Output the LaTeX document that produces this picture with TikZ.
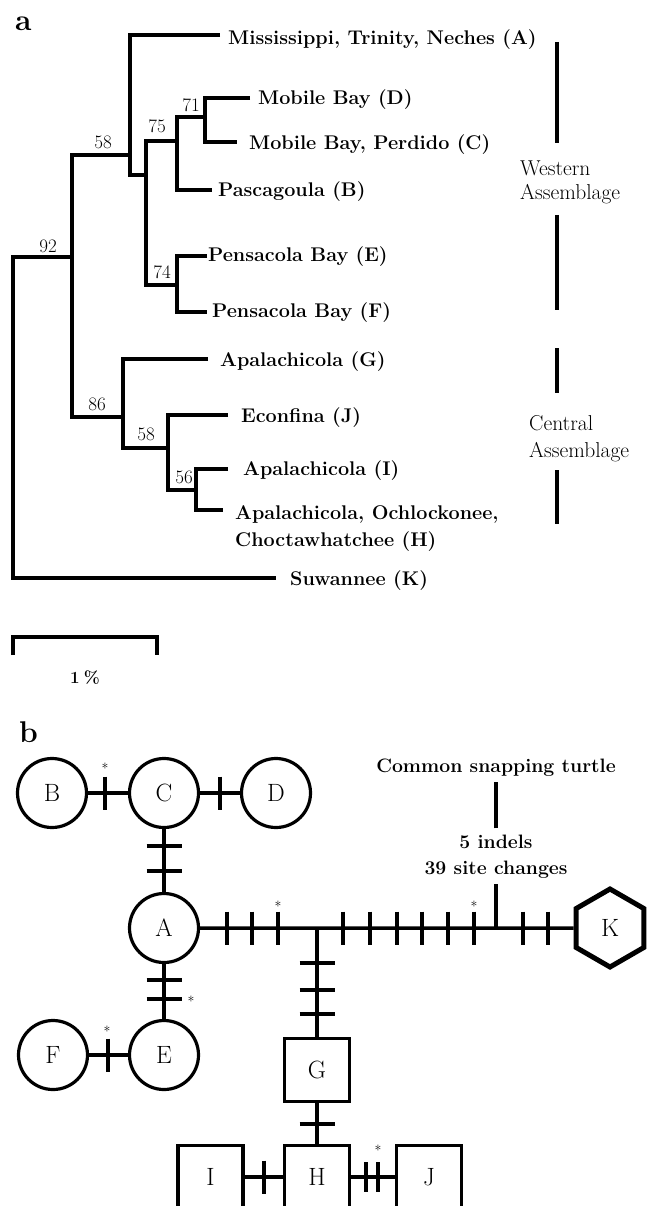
\documentclass[tikz,border=0pt]{standalone}
\usepackage{fontspec}
\usetikzlibrary{shapes.geometric}
\newcommand\fs[2]{\fontsize{#1}{#2}\selectfont}
\newcommand\tickv[2]{\draw[tk] (#1,#2-16.5) -- (#1,#2+16.5);}
\newcommand\tickh[2]{\draw[tk] (#1-17.5,#2) -- (#1+17.5,#2);}
\tikzset{
 branch/.style={line width=3.6pt, line join=miter},
 leaf/.style={anchor=base west, inner sep=0pt, font=\fs{19.8}{27}\bfseries, align=left},
 boot/.style={anchor=base, inner sep=0pt, font=\fs{19}{22}},
 bar/.style={line width=4.2pt},
 grp/.style={anchor=base west, inner sep=0pt, font=\fs{21.5}{24}, align=left},
 hap/.style={circle, draw, line width=3.2pt, minimum size=69pt, inner sep=0pt, font=\fs{25}{25}},
 sq/.style={rectangle, draw, line width=3.5pt, minimum width=65pt, minimum height=63pt, inner sep=0pt, font=\fs{25}{25}},
 hexa/.style={regular polygon, regular polygon sides=6, regular polygon rotate=30, draw, line width=5pt, minimum size=78pt, inner sep=0pt, font=\fs{25}{25}},
 conn/.style={line width=3.5pt},
 tk/.style={line width=3.5pt},
 ast/.style={anchor=base, inner sep=0pt, font=\fs{14}{14}},
 panel/.style={anchor=base west, inner sep=0pt, font=\fs{30}{30}\bfseries},
 txt/.style={anchor=base, inner ysep=6pt, inner xsep=0pt, font=\fs{19.4}{26}\bfseries, align=center},
}
\begin{document}
\begin{tikzpicture}[x=1pt, y=-1pt]
\clip (0,0) rectangle (660,1206);
% ---------------- panel a ----------------
\node[panel] (la) at (15,31) {a};
\coordinate (root) at (13,257);
\coordinate (n58a) at (72,257);
\coordinate (nAx) at (130,155);
\coordinate (nB) at (146,175);
\coordinate (n75) at (177,141);
\coordinate (n71) at (205,117);
\coordinate (n74) at (177,285);
\coordinate (n86) at (123,417);
\coordinate (n58b) at (168,448);
\coordinate (n56) at (196,490);
\coordinate (eA) at (220,35);
\coordinate (eD) at (250,98);
\coordinate (eC) at (237,142);
\coordinate (eB) at (212,190);
\coordinate (eE) at (207,256);
\coordinate (eF) at (207,312);
\coordinate (eG) at (208,359);
\coordinate (eJ) at (228,415);
\coordinate (eI) at (228,469);
\coordinate (eH) at (223,510);
\coordinate (eK) at (276,578);

\draw[branch] (n58a) -- (root) |- (eK);
\draw[branch] (nAx) -| (n58a) |- (n86);
\draw[branch] (eA) -| (nAx) |- (nB);
\draw[branch] (n75) -| (nB) |- (n74);
\draw[branch] (n71) -| (n75) |- (eB);
\draw[branch] (eD) -| (n71) |- (eC);
\draw[branch] (eE) -| (n74) |- (eF);
\draw[branch] (eG) -| (n86) |- (n58b);
\draw[branch] (eJ) -| (n58b) |- (n56);
\draw[branch] (eI) -| (n56) |- (eH);

\node[leaf] (tA) at (228,45) {Mississippi, Trinity, Neches (A)};
\node[leaf] (tD) at (258,105) {Mobile Bay (D)};
\node[leaf] (tC) at (249,150) {Mobile Bay, Perdido (C)};
\node[leaf] (tB) at (218,197) {Pascagoula (B)};
\node[leaf] (tE) at (208,261) {Pensacola Bay (E)};
\node[leaf] (tF) at (212,317) {Pensacola Bay (F)};
\node[leaf] (tG) at (220,366) {Apalachicola (G)};
\node[leaf] (tJ) at (241,422) {Econfina (J)};
\node[leaf] (tI) at (243,475) {Apalachicola (I)};
\node[leaf] (tH) at (235,546) {Apalachicola, Ochlockonee,\\Choctawhatchee (H)};
\node[leaf] (tK) at (290,585) {Suwannee (K)};

\node[boot] (s92) at (48,252) {92};
\node[boot] (s58a) at (103,149) {58};
\node[boot] (s75) at (157,133) {75};
\node[boot] (s71) at (191,112) {71};
\node[boot] (s74) at (162,278) {74};
\node[boot] (s86) at (97,410) {86};
\node[boot] (s58b) at (146,440) {58};
\node[boot] (s56) at (184,483) {56};

\node[grp] (west) at (520,200) {Western\\Assemblage};
\node[grp, font=\fs{21.5}{27}] (cent) at (529,457) {Central\\Assemblage};
\coordinate (w1) at (557,42);  \coordinate (w2) at (557,143);
\coordinate (w3) at (557,215); \coordinate (w4) at (557,310);
\coordinate (c1) at (557,348); \coordinate (c2) at (557,393);
\coordinate (c3) at (557,470); \coordinate (c4) at (557,524);
\draw[bar] (w1) -- (w2);
\draw[bar] (w3) -- (w4);
\draw[bar] (c1) -- (c2);
\draw[bar] (c3) -- (c4);

\coordinate (sL) at (13,655);  \coordinate (sLt) at (13,637);
\coordinate (sR) at (157,655); \coordinate (sRt) at (157,637);
\draw[bar, line join=miter] (sL) -- (sLt) -- (sRt) -- (sR);
\node[anchor=base, inner sep=0pt, font=\fs{17}{17}\bfseries] (pct) at (85,683) {1\hspace{4pt}\%};

% ---------------- panel b ----------------
\node[panel] (lb) at (19,742) {b};
\node[hap] (B) at (52,793) {B};
\node[hap] (C) at (164,793) {C};
\node[hap] (D) at (276,793) {D};
\node[hap] (A) at (164,928) {A};
\node[hap] (E) at (164,1055) {E};
\node[hap] (F) at (53,1055) {F};
\node[hexa] (K) at (610,928) {K};
\node[sq] (G) at (317,1070) {G};
\node[sq] (H) at (317,1177) {H};
\node[sq] (I) at (210.5,1177) {I};
\node[sq] (J) at (429,1177) {J};
\coordinate (jG) at (317,928);
\coordinate (jT) at (496,928);
\node[txt] (chg) at (496,874) {5 indels\\39 site changes};
\node[txt] (turtle) at (496,772) {Common snapping turtle};

\draw[conn] (B) -- (C);
\draw[conn] (C) -- (D);
\draw[conn] (C) -- (A);
\draw[conn] (A) -- (E);
\draw[conn] (F) -- (E);
\draw[conn] (A) -- (K);
\draw[conn] (jG) -- (G);
\draw[conn] (G) -- (H);
\draw[conn] (I) -- (H);
\draw[conn] (H) -- (J);
\draw[conn] (jT) -- (chg);
\draw[conn] (chg) -- (turtle);

% mutation ticks
\tickv{105}{793}
\tickv{220}{793}
\tickh{164}{846}
\tickh{164}{871}
\tickh{164}{980}
\tickh{164}{999}
\tickv{108}{1055}
\foreach \x in {227,252,278,343,370,397,422,448,474,523,548} {\tickv{\x}{928}}
\tickh{317}{963}
\tickh{317}{990}
\tickh{317}{1014}
\tickh{317}{1124}
\tickv{264}{1177}
\draw[tk] (366,1162) -- (366,1192);
\draw[tk] (378,1162) -- (378,1192);

% asterisks
\node[ast] (a1) at (105,773) {*};
\node[ast] (a2) at (278,911) {*};
\node[ast] (a3) at (474,911) {*};
\node[ast] (a4) at (191,1006) {*};
\node[ast] (a5) at (107,1036) {*};
\node[ast] (a6) at (378,1155) {*};
\end{tikzpicture}
\end{document}
